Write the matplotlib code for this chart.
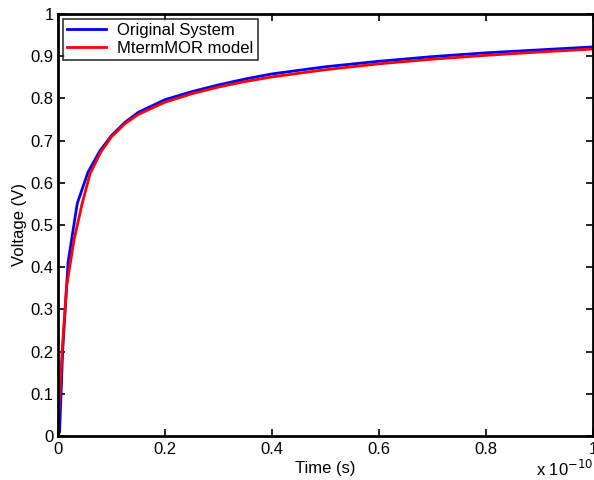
import matplotlib
matplotlib.use('Agg')
import matplotlib.pyplot as plt

# Time axis in units of 1e-10 s
t_orig = [0, 0.003, 0.0088, 0.019, 0.036, 0.056, 0.078, 0.1, 0.125,
          0.15, 0.2, 0.25, 0.3, 0.35, 0.4, 0.5, 0.6, 0.7, 0.8, 0.9, 1.0]
v_orig = [0, 0.01, 0.204, 0.413, 0.551, 0.625, 0.675, 0.712, 0.743,
          0.767, 0.797, 0.816, 0.832, 0.846, 0.858, 0.875, 0.888, 0.899,
          0.908, 0.915, 0.922]

t_mor = [0, 0.0015, 0.0075, 0.016, 0.03, 0.045, 0.06, 0.08, 0.1, 0.125,
         0.15, 0.2, 0.25, 0.3, 0.35, 0.4, 0.5, 0.6, 0.7, 0.8, 0.9, 1.0]
v_mor = [0, 0.054, 0.196, 0.354, 0.465, 0.550, 0.622, 0.673, 0.709, 0.740,
         0.762, 0.791, 0.811, 0.827, 0.840, 0.851, 0.868, 0.882, 0.893,
         0.902, 0.910, 0.917]

xticks = [0, 0.2, 0.4, 0.6, 0.8, 1.0]
xtick_labels = ['0', '0.2', '0.4', '0.6', '0.8', '1']
yticks = [0, 0.1, 0.2, 0.3, 0.4, 0.5, 0.6, 0.7, 0.8, 0.9, 1.0]
ytick_labels = ['0', '0.1', '0.2', '0.3', '0.4', '0.5', '0.6', '0.7', '0.8', '0.9', '1']

plt.rcParams['font.family'] = ['Liberation Sans', 'DejaVu Sans']
plt.rcParams['font.size'] = 12

fig = plt.figure(figsize=(5.94, 4.8), dpi=100)
ax = fig.add_axes([58 / 594, 44 / 480, 535 / 594, 422 / 480])

ax.plot(t_orig, v_orig, color='#0000ff', linewidth=2, label='Original System')
ax.plot(t_mor, v_mor, color='#ff0000', linewidth=2, label='MtermMOR model')

ax.set_xlim(0, 1)
ax.set_ylim(0, 1)
ax.set_xticks(xticks)
ax.set_xticklabels(xtick_labels)
ax.set_yticks(yticks)
ax.set_yticklabels(ytick_labels)
ax.tick_params(direction='in', top=True, right=True, length=5, width=1.2,
               labelsize=12, pad=4)
ax.tick_params(axis='y', pad=3)
for s in ax.spines.values():
    s.set_linewidth(2)

ax.set_xlabel('Time (s)', fontsize=12, labelpad=3)
ax.set_ylabel('Voltage (V)', fontsize=12, labelpad=3)

leg = ax.legend(loc='upper left', fontsize=12, frameon=True, fancybox=False,
                borderaxespad=0.3, handlelength=2.3, borderpad=0.25,
                labelspacing=0.15, handletextpad=0.7)
leg.get_frame().set_edgecolor('black')
leg.get_frame().set_linewidth(1.2)

fig.text(593 / 594, 1 / 480, r'x 10$^{-10}$', fontsize=12, ha='right', va='bottom')

fig.savefig('out.png', dpi=100)
